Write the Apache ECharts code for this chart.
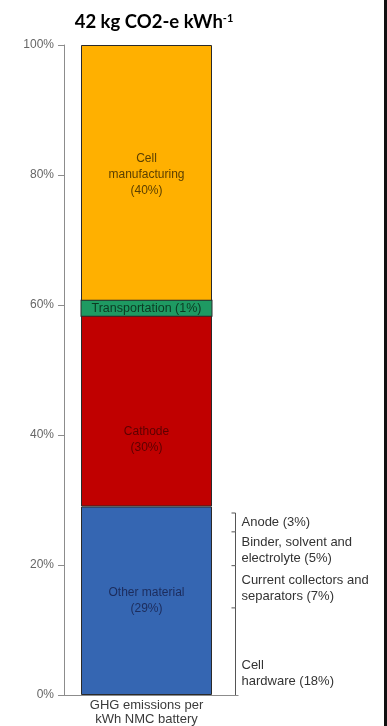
<!DOCTYPE html>
<html>
<head>
<meta charset="utf-8">
<script src="https://cdn.jsdelivr.net/npm/echarts@6/dist/echarts.min.js"></script>
<style>
  html, body { margin: 0; padding: 0; background: #fff; }
  #chart { width: 387px; height: 726px; }
</style>
</head>
<body>
<div id="chart"></div>
<script>
// Single stacked column: share of GHG emissions per kWh of NMC battery
const categories = ['GHG emissions per\nkWh NMC battery'];
const segmentNames = ['Other material', 'Cathode', 'Transportation', 'Cell\nmanufacturing'];
const segmentValues = [29, 30, 1, 40];
const segmentLabels = ['Other material\n(29%)', 'Cathode\n(30%)', 'Transportation (1%)', 'Cell\nmanufacturing\n(40%)'];
const yTicks = [0, 20, 40, 60, 80, 100];

// Breakdown of "Other material", bracket boundaries in % of the column
const subLabels = ['Cell\nhardware (18%)', 'Current collectors and\nseparators (7%)', 'Binder, solvent and\nelectrolyte (5%)', 'Anode (3%)'];
const subBounds = [0, 13.4, 19.9, 25.1, 28.0];

const colors = ['#3566B2', '#C00000', '#1E9A62', '#FFB000'];
const labelColors = ['#1c2c5c', '#5c0000', '#0c3a22', '#5a3f00'];
const BAR_WIDTH = 131;
// vertical nudges of the bracket captions (px) and of the cathode caption
const SUB_LABEL_GAP = [-6, 7, 3, 1];

const chart = echarts.init(document.getElementById('chart'));

const barSeries = segmentValues.map((v, i) => {
  const label = {
    show: true,
    position: 'inside',
    formatter: segmentLabels[i],
    color: labelColors[i],
    fontFamily: 'Liberation Sans, Arial, sans-serif',
    fontSize: 12,
    lineHeight: 16,
    offset: i === 1 ? [0, 31] : [0, 0]
  };
  if (i === 2) {
    // the thin transport slice gets a caption plate in its own colour so the text stays legible
    Object.assign(label, {
      fontSize: 12.5,
      width: BAR_WIDTH - 1,
      height: 15,
      lineHeight: 15,
      align: 'center',
      verticalAlign: 'middle',
      backgroundColor: colors[2],
      borderColor: '#2a2a2a',
      borderWidth: 1
    });
  }
  return {
    name: segmentNames[i],
    type: 'bar',
    stack: 'total',
    barWidth: BAR_WIDTH,
    data: [v],
    itemStyle: { color: colors[i], borderColor: '#2a2a2a', borderWidth: 1 },
    label: label,
    emphasis: { disabled: true },
    z: 2
  };
});

const bracketData = subLabels.map((_, i) => [0, subBounds[i], subBounds[i + 1], i]);

const bracketSeries = {
  type: 'custom',
  clip: false,
  silent: true,
  encode: { x: 0, y: [1, 2] },
  data: bracketData,
  renderItem: function (params, api) {
    const idx = api.value(3);
    const lo = api.coord([api.value(0), api.value(1)]);
    const hi = api.coord([api.value(0), api.value(2)]);
    const x = Math.round(lo[0] + BAR_WIDTH / 2 + 23) + 0.5;
    const stroke = { stroke: '#555', lineWidth: 1 };
    const children = [
      { type: 'line', shape: { x1: x, y1: hi[1], x2: x, y2: lo[1] }, style: stroke },
      { type: 'line', shape: { x1: x - 4, y1: hi[1], x2: x, y2: hi[1] }, style: stroke }
    ];
    if (idx === 0) {
      // extend the baseline under the bracket
      children.push({ type: 'line', shape: { x1: lo[0], y1: lo[1] + 0.5, x2: x + 3, y2: lo[1] + 0.5 }, style: { stroke: '#8c8c8c', lineWidth: 1 } });
    }
    const bottomAligned = idx === 0;
    children.push({
      type: 'text',
      style: {
        text: subLabels[idx],
        x: x + 6,
        y: bottomAligned ? lo[1] + SUB_LABEL_GAP[idx] : hi[1] + SUB_LABEL_GAP[idx],
        align: 'left',
        verticalAlign: bottomAligned ? 'bottom' : 'top',
        fill: '#333',
        font: '13px "Liberation Sans", Arial, sans-serif',
        lineHeight: 16
      }
    });
    return { type: 'group', children: children };
  },
  z: 3
};

chart.setOption({
  animation: false,
  backgroundColor: '#fff',
  title: {
    text: '{b|42 kg CO2-e kWh}{s|-1}',
    left: 149,
    top: 8,
    textAlign: 'center',
    textStyle: {
      rich: {
        b: { fontFamily: 'Lato, "Open Sans", sans-serif', fontWeight: 'bold', fontSize: 18.5, color: '#000' },
        s: { fontFamily: 'Lato, "Open Sans", sans-serif', fontWeight: 'bold', fontSize: 11, color: '#000', verticalAlign: 'top' }
      }
    }
  },
  grid: { left: 64, right: 158, top: 45, bottom: 31, containLabel: false },
  xAxis: {
    type: 'category',
    data: categories,
    axisLine: { show: true, lineStyle: { color: '#8c8c8c', width: 1 } },
    axisTick: { show: false },
    axisLabel: {
      color: '#3a3a3a',
      fontFamily: 'Liberation Sans, Arial, sans-serif',
      fontSize: 13,
      lineHeight: 14,
      margin: 3
    }
  },
  yAxis: {
    type: 'value',
    min: yTicks[0],
    max: yTicks[yTicks.length - 1],
    interval: 20,
    axisLine: { show: true, lineStyle: { color: '#8c8c8c', width: 1 } },
    axisTick: { show: true, length: 6, lineStyle: { color: '#8c8c8c' } },
    splitLine: { show: false },
    axisLabel: {
      formatter: '{value}%',
      color: '#666',
      fontFamily: 'Liberation Sans, Arial, sans-serif',
      fontSize: 12,
      margin: 10
    }
  },
  graphic: [
    { type: 'rect', right: 0, top: 0, shape: { width: 3, height: 726 }, style: { fill: '#111' } }
  ],
  series: barSeries.concat([bracketSeries])
});
</script>
</body>
</html>
